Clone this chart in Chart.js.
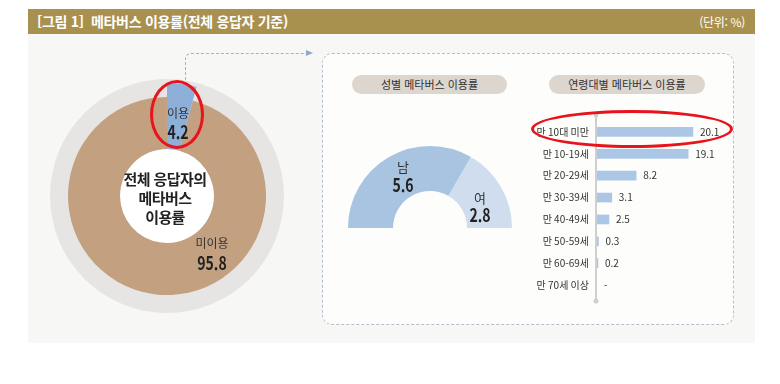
<!DOCTYPE html>
<html lang="ko">
<head>
<meta charset="utf-8">
<script src="https://cdn.jsdelivr.net/npm/chart.js@4.4.1/dist/chart.umd.min.js"></script>
<style>
  html,body{margin:0;padding:0;background:#fff;}
  body{width:780px;height:384px;position:relative;overflow:hidden;font-family:"Noto Sans CJK KR","Noto Sans",sans-serif;color:#222;}
  .abs{position:absolute;}
  #panel{left:28px;top:9px;width:727px;height:334px;background:#f7f7f6;}
  #titlebar{left:28px;top:9px;width:727px;height:25px;background:#a8914f;color:#fff;}
  #title{left:9px;top:2px;font-size:14px;font-weight:bold;white-space:pre;letter-spacing:-0.3px;}
  #unit{right:10px;top:4px;font-size:12px;letter-spacing:-0.3px;}
  #box{left:322px;top:53px;width:410px;height:270px;border:1px dashed #b3bfcc;border-radius:10px;background:#fdfdfc;}
  #conn{left:185px;top:53px;width:122px;height:27px;border-top:1px dashed #9fb3cb;border-left:1px dashed #9fb3cb;border-top-left-radius:6px;}
  #arrow{left:306px;top:50px;width:0;height:0;border-top:3.5px solid transparent;border-bottom:3.5px solid transparent;border-left:7px solid #8fa8c6;}
  #greyRing{left:50px;top:79px;width:234px;height:234px;border-radius:50%;background:#e7e5e3;}
  #whiteHole{left:120px;top:149px;width:94px;height:94px;border-radius:50%;background:#fff;}
  canvas{position:absolute;}
  .pill{background:#ddd6cf;border-radius:10px;font-size:11px;color:#333;text-align:center;line-height:19px;height:19px;}
  .lbl{text-align:center;transform:translate(-50%,-50%);white-space:nowrap;line-height:1;}
  .sm{font-size:12px;color:#333;}
  .num{font-weight:bold;font-size:18px;color:#222;transform:translate(-50%,-50%) scaleX(0.78);}
  #center{left:165px;top:197px;transform:translate(-50%,-50%);text-align:center;font-weight:bold;font-size:15px;line-height:19px;white-space:nowrap;letter-spacing:-0.6px;}
  .ring{border-radius:50%;border:3px solid #e8141c;box-sizing:border-box;}
</style>
</head>
<body>
<div id="panel" class="abs"></div>
<div id="titlebar" class="abs"><div id="title" class="abs">[그림 1]  메타버스 이용률(전체 응답자 기준)</div><div id="unit" class="abs">(단위: %)</div></div>
<div id="box" class="abs"></div>
<div id="conn" class="abs"></div>
<div id="arrow" class="abs"></div>
<div id="greyRing" class="abs"></div>
<div id="whiteHole" class="abs"></div>
<canvas id="cBrown" width="240" height="240" style="left:47px;top:76px;width:240px;height:240px;"></canvas>
<canvas id="cBlue" width="240" height="240" style="left:47px;top:76px;width:240px;height:240px;"></canvas>
<div id="center" class="abs">전체 응답자의<br>메타버스<br>이용률</div>
<div class="abs lbl sm" id="lUseName" style="left:178px;top:113px;"></div>
<div class="abs lbl num" id="lUseVal" style="left:178px;top:131px;"></div>
<div class="abs lbl sm" id="lNoName" style="left:212px;top:243px;"></div>
<div class="abs lbl num" id="lNoVal" style="left:212px;top:262px;"></div>

<div class="abs pill" style="left:352px;top:75px;width:155px;">성별 메타버스 이용률</div>
<canvas id="cGender" width="170" height="86" style="left:345px;top:144px;width:170px;height:86px;"></canvas>
<div class="abs lbl" id="lMName" style="left:403px;top:166px;font-size:13px;color:#333;"></div>
<div class="abs lbl num" id="lMVal" style="left:403px;top:184px;"></div>
<div class="abs lbl" id="lFName" style="left:480px;top:197px;font-size:13px;color:#333;"></div>
<div class="abs lbl num" id="lFVal" style="left:480px;top:214px;"></div>

<div class="abs pill" style="left:549px;top:75px;width:156px;">연령대별 메타버스 이용률</div>
<canvas id="cAge" width="215" height="205" style="left:520px;top:105px;width:215px;height:205px;"></canvas>

<div class="abs ring" style="left:150px;top:80px;width:54px;height:69px;"></div>
<div class="abs ring" style="left:531px;top:110px;width:202px;height:38px;"></div>

<script>
// ---- data ----
const overallLabels = ['이용', '미이용'];
const overallValues = [4.2, 95.8];
const genderLabels = ['남', '여'];
const genderValues = [5.6, 2.8];
const ageLabels = ['만 10대 미만', '만 10-19세', '만 20-29세', '만 30-39세', '만 40-49세', '만 50-59세', '만 60-69세', '만 70세 이상'];
const ageValues = [20.1, 19.1, 8.2, 3.1, 2.5, 0.3, 0.2, null];

// ---- colours ----
const cBlue = '#8eafd7';
const cBrown = '#c2a080';
const cMale = '#a9c4e1';
const cFemale = '#cfddee';
const cBar = '#abc7e5';

Chart.defaults.font.family = '"Noto Sans CJK KR","Noto Sans",sans-serif';
Chart.defaults.animation = false;
Chart.defaults.plugins.legend.display = false;
Chart.defaults.plugins.tooltip.enabled = false;

const HOLE = 47;
function ring(id, colors, radius) {
  new Chart(document.getElementById(id), {
    type: 'doughnut',
    data: { labels: overallLabels, datasets: [{ data: overallValues, backgroundColor: colors, borderWidth: 0 }] },
    options: { responsive: false, radius: radius, cutout: (HOLE / radius * 100) + '%', layout: { padding: 0 } }
  });
}
ring('cBrown', ['rgba(0,0,0,0)', cBrown], 99);
ring('cBlue', [cBlue, 'rgba(0,0,0,0)'], 113);

document.getElementById('lUseName').textContent = overallLabels[0];
document.getElementById('lUseVal').textContent = overallValues[0].toFixed(1);
document.getElementById('lNoName').textContent = overallLabels[1];
document.getElementById('lNoVal').textContent = overallValues[1].toFixed(1);

new Chart(document.getElementById('cGender'), {
  type: 'doughnut',
  data: { labels: genderLabels, datasets: [{ data: genderValues, backgroundColor: [cMale, cFemale], borderWidth: 0 }] },
  options: { responsive: false, rotation: -90, circumference: 180, radius: 82, cutout: (37 / 82 * 100) + '%', layout: { padding: 0 } }
});
document.getElementById('lMName').textContent = genderLabels[0];
document.getElementById('lMVal').textContent = genderValues[0].toFixed(1);
document.getElementById('lFName').textContent = genderLabels[1];
document.getElementById('lFVal').textContent = genderValues[1].toFixed(1);

const barDeco = {
  id: 'barDeco',
  beforeDatasetsDraw(chart) {
    const { ctx, chartArea, scales: { x } } = chart;
    const x0 = x.getPixelForValue(0) - 1;
    ctx.save();
    ctx.strokeStyle = '#cfcfcf';
    ctx.fillStyle = '#cfcfcf';
    ctx.lineWidth = 2;
    ctx.beginPath();
    ctx.moveTo(x0, chartArea.top - 6);
    ctx.lineTo(x0, chartArea.bottom + 5);
    ctx.stroke();
    [chartArea.top - 6, chartArea.bottom + 5].forEach(y => {
      ctx.beginPath(); ctx.arc(x0, y, 2.5, 0, Math.PI * 2); ctx.fill();
    });
    ctx.restore();
  },
  afterDatasetsDraw(chart) {
    const { ctx, scales: { x, y } } = chart;
    ctx.save();
    ctx.font = '10px "Noto Sans CJK KR","Noto Sans",sans-serif';
    ctx.fillStyle = '#333';
    ctx.textBaseline = 'middle';
    ctx.textAlign = 'left';
    ageValues.forEach((v, i) => {
      const py = y.getPixelForValue(i);
      const px = (v == null ? x.getPixelForValue(0) : x.getPixelForValue(v)) + 7;
      ctx.fillText(v == null ? '-' : v.toFixed(1), px, py);
    });
    ctx.restore();
  }
};

new Chart(document.getElementById('cAge'), {
  type: 'bar',
  data: { labels: ageLabels, datasets: [{ data: ageValues, backgroundColor: cBar, borderWidth: 0, barThickness: 9 }] },
  options: {
    responsive: false,
    indexAxis: 'y',
    layout: { padding: { top: 16, bottom: 12, left: 0, right: 33 } },
    scales: {
      x: { display: false, min: 0, max: 22 },
      y: {
        afterFit(scale) { scale.width = 77; },
        grid: { display: false, drawTicks: false },
        border: { display: false },
        ticks: { padding: 8, color: '#333', font: { size: 10 } }
      }
    }
  },
  plugins: [barDeco]
});
</script>
</body>
</html>
